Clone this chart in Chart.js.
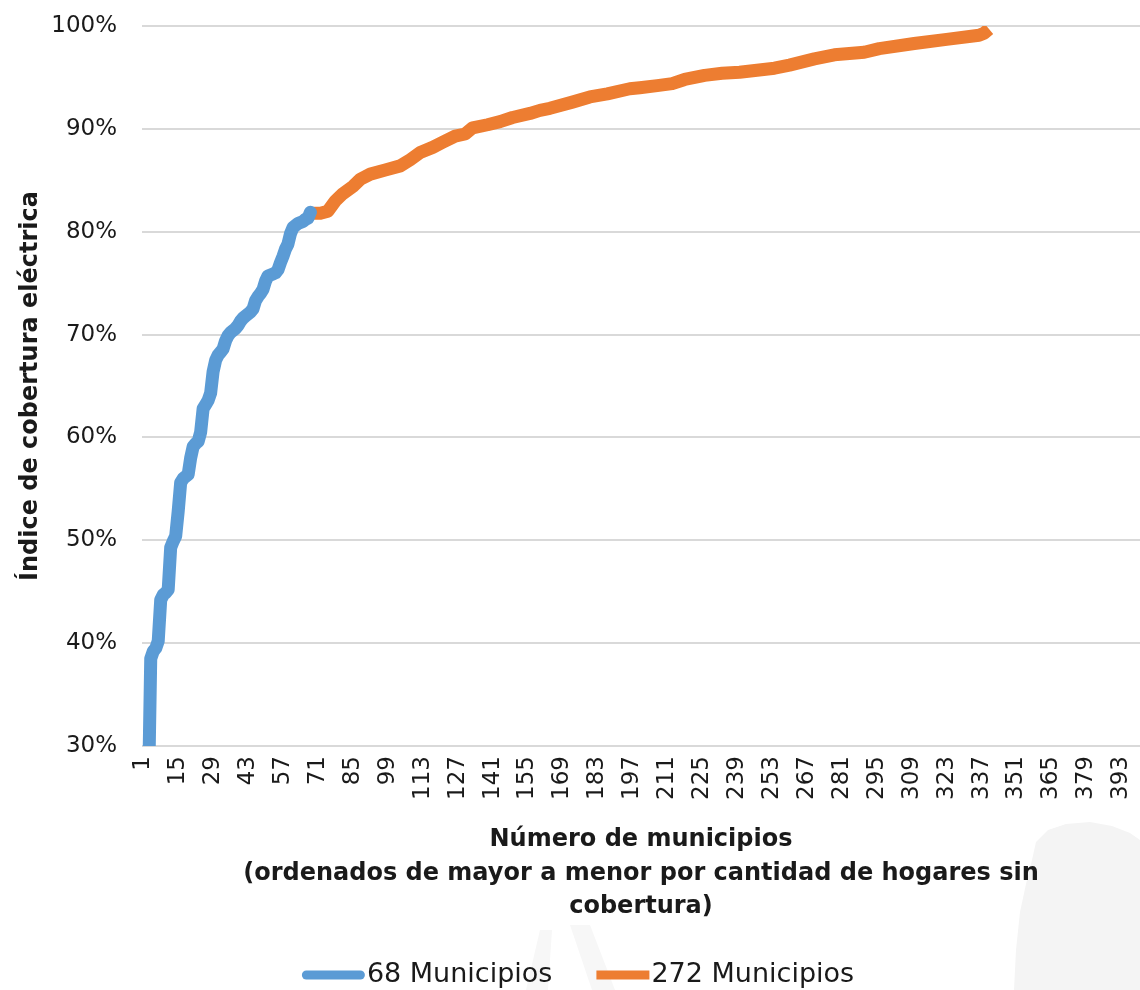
<!DOCTYPE html>
<html>
<head>
<meta charset="utf-8">
<script src="https://cdn.jsdelivr.net/npm/chart.js@4.4.1/dist/chart.umd.min.js"></script>
<style>
  html, body { margin: 0; padding: 0; background: #ffffff; }
  #wrap { width: 1140px; height: 990px; }
</style>
</head>
<body>
<div id="wrap"><canvas id="c" width="1140" height="990"></canvas></div>
<script>
// ---- data ----
const categoryCount = 400;                       // municipios on the axis
const categories = Array.from({length: categoryCount}, (_, k) => k + 1);
const tickLabels = [1, 15, 29, 43, 57, 71, 85, 99, 113, 127, 141, 155, 169, 183, 197, 211,
                    225, 239, 253, 267, 281, 295, 309, 323, 337, 351, 365, 379, 393];

// 68 Municipios (municipio 1..68), % coverage
const blueValues = [
  5, 15, 24, 38.5, 39.2, 39.5, 40.2, 44.2, 44.7, 44.9,
  45.2, 49.3, 49.9, 50.4, 52.8, 55.6, 56.0, 56.2, 56.4, 58.0,
  59.1, 59.4, 59.6, 60.5, 62.8, 63.2, 63.6, 64.3, 66.4, 67.5,
  68.0, 68.3, 68.6, 69.4, 69.9, 70.2, 70.4, 70.6, 70.9, 71.3,
  71.6, 71.8, 72.0, 72.2, 72.5, 73.3, 73.7, 74.0, 74.4, 75.2,
  75.7, 75.8, 75.9, 76.0, 76.3, 77.0, 77.6, 78.3, 78.8, 79.8,
  80.4, 80.6, 80.8, 80.9, 81.0, 81.2, 81.3, 81.9
];

// 272 Municipios (municipio 69..340): readings at these municipio numbers
const orangeIdx = [69, 72, 75, 78, 81, 85, 88, 92, 98, 104, 108, 112, 117, 121, 126, 130,
                   133, 139, 144, 149, 156, 160, 164, 173, 180, 187, 196, 200, 207, 213,
                   218, 226, 233, 240, 247, 254, 260, 270, 278, 290, 296, 310, 323, 336,
                   338, 340];
const orangeVal = [81.8, 81.8, 82.0, 83.0, 83.7, 84.4, 85.1, 85.6, 86.0, 86.4, 87.0, 87.7,
                   88.2, 88.7, 89.3, 89.5, 90.1, 90.4, 90.7, 91.1, 91.5, 91.8, 92.0, 92.6,
                   93.1, 93.4, 93.9, 94.0, 94.2, 94.4, 94.8, 95.2, 95.4, 95.5, 95.7, 95.9,
                   96.2, 96.8, 97.2, 97.45, 97.8, 98.3, 98.7, 99.1, 99.3, 99.7];

const seriesNames = ['68 Municipios', '272 Municipios'];
const yTitle = 'Índice de cobertura eléctrica';
const xTitle = ['Número de municipios',
                '(ordenados de mayor a menor por cantidad de hogares sin',
                'cobertura)'];

// ---- chart ----
const FONT = '"DejaVu Sans", "Open Sans", sans-serif';
const TXT = '#1a1a1a';
const BLUE = '#5B9BD5';
const ORANGE = '#ED7D31';

const orangeData = orangeIdx.map((m, k) => ({x: m, y: orangeVal[k]}));

// faint background watermark silhouettes (decoration of the original picture)
const watermark = {
  id: 'watermark',
  beforeDraw(chart) {
    const ctx = chart.ctx;
    ctx.save();
    ctx.fillStyle = '#f4f4f4';
    ctx.beginPath();
    [[1036, 842], [1048, 830], [1066, 824], [1090, 822], [1112, 826], [1130, 833], [1140, 840],
     [1140, 990], [1014, 990], [1016, 950], [1020, 912], [1026, 884], [1032, 860]]
      .forEach((p, k) => k ? ctx.lineTo(p[0], p[1]) : ctx.moveTo(p[0], p[1]));
    ctx.closePath();
    ctx.fill();
    ctx.fillStyle = '#f7f7f7';
    ctx.beginPath();
    [[526, 990], [540, 930], [552, 930], [548, 990]]
      .forEach((p, k) => k ? ctx.lineTo(p[0], p[1]) : ctx.moveTo(p[0], p[1]));
    ctx.closePath();
    ctx.fill();
    ctx.beginPath();
    [[570, 925], [590, 925], [615, 990], [592, 990]]
      .forEach((p, k) => k ? ctx.lineTo(p[0], p[1]) : ctx.moveTo(p[0], p[1]));
    ctx.closePath();
    ctx.fill();
    ctx.restore();
  }
};

// legend drawn on the chart canvas, Excel style (line sample right before the text)
const excelLegend = {
  id: 'excelLegend',
  afterDraw(chart) {
    const ctx = chart.ctx;
    ctx.save();
    ctx.font = '27px ' + FONT;
    ctx.textBaseline = 'middle';
    ctx.textAlign = 'left';
    const items = chart.data.datasets.map((ds, k) => ({
      text: ds.label, color: ds.borderColor, w: k === 0 ? 63 : 53, round: k === 0
    }));
    const gap = 2, spacing = 44;
    let total = spacing * (items.length - 1);
    items.forEach(it => { it.tw = ctx.measureText(it.text).width; total += it.w + gap + it.tw; });
    let x = 578 - total / 2;
    const yc = 975;
    items.forEach(it => {
      ctx.fillStyle = it.color;
      ctx.strokeStyle = it.color;
      if (it.round) {
        ctx.lineWidth = 9;
        ctx.lineCap = 'round';
        ctx.beginPath();
        ctx.moveTo(x + 4.5, yc);
        ctx.lineTo(x + it.w - 4.5, yc);
        ctx.stroke();
      } else {
        ctx.fillRect(x, yc - 4.5, it.w, 9);
      }
      ctx.fillStyle = TXT;
      ctx.fillText(it.text, x + it.w + gap, yc);
      x += it.w + gap + it.tw + spacing;
    });
    ctx.restore();
  }
};

new Chart(document.getElementById('c'), {
  type: 'line',
  data: {
    labels: categories,
    datasets: [
      {
        label: seriesNames[0],
        data: blueValues,
        borderColor: BLUE,
        backgroundColor: BLUE,
        borderWidth: 13,
        borderCapStyle: 'round',
        borderJoinStyle: 'round',
        pointRadius: 0,
        tension: 0,
        fill: false
      },
      {
        label: seriesNames[1],
        data: orangeData,
        borderColor: ORANGE,
        backgroundColor: ORANGE,
        borderWidth: 13,
        borderCapStyle: 'butt',
        borderJoinStyle: 'round',
        pointRadius: 0,
        tension: 0,
        fill: false
      }
    ]
  },
  plugins: [watermark, excelLegend],
  options: {
    responsive: false,
    animation: false,
    devicePixelRatio: 1,
    layout: { padding: { top: 26, right: 0, bottom: 50, left: 0 } },
    plugins: {
      legend: { display: false },
      tooltip: { enabled: false }
    },
    scales: {
      x: {
        type: 'category',
        offset: true,
        grid: { display: false, drawTicks: false },
        border: { display: false },
        ticks: {
          autoSkip: false,
          maxRotation: 90,
          minRotation: 90,
          padding: 10,
          color: TXT,
          font: { family: FONT, size: 23 },
          callback: function (value, index) {
            const lab = categories[index];
            return tickLabels.includes(lab) ? String(lab) : null;
          }
        },
        title: {
          display: true,
          text: xTitle,
          color: TXT,
          font: { family: FONT, size: 24, weight: 'bold', lineHeight: 1.38 },
          padding: { top: 0, bottom: 17 }
        },
        afterFit: function (scale) {
          scale.height = 194;
          scale.paddingLeft = 0;
          scale.paddingRight = 0;
        }
      },
      y: {
        min: 30,
        max: 100,
        grid: { color: '#d9d9d9', lineWidth: 2, drawTicks: false },
        border: { display: false },
        ticks: {
          stepSize: 10,
          padding: 25,
          color: TXT,
          font: { family: FONT, size: 23 },
          callback: v => v + '%'
        },
        title: {
          display: true,
          text: yTitle,
          color: TXT,
          font: { family: FONT, size: 24, weight: 'bold', lineHeight: 1.2 },
          padding: { top: 16, bottom: 0 }
        },
        afterFit: function (scale) {
          scale.width = 142;
          scale.paddingTop = 0;
          scale.paddingBottom = 0;
        }
      }
    }
  }
});
</script>
</body>
</html>
